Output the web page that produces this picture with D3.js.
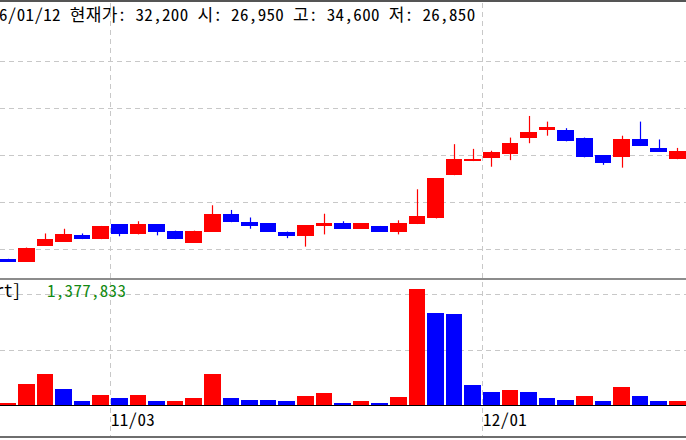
<!DOCTYPE html>
<html>
<head>
<meta charset="utf-8">
<script src="https://cdn.jsdelivr.net/npm/d3@7"></script>
<style>
body { margin: 0; background: #fff; overflow: hidden; }
text { font-family: "Noto Sans Mono CJK KR", "Noto Sans CJK KR", "DejaVu Sans Mono", monospace; }
</style>
</head>
<body>
<script>
var dates = ["10/23", "10/26", "10/27", "10/28", "10/29", "10/30", "11/03", "11/04", "11/05", "11/06",
             "11/09", "11/10", "11/11", "11/12", "11/13", "11/16", "11/17", "11/18", "11/19", "11/20",
             "11/23", "11/24", "11/25", "11/26", "11/27", "11/30", "12/01", "12/02", "12/03", "12/04",
             "12/07", "12/08", "12/09", "12/10", "12/11", "12/14", "12/15"];

var open  = [19450, 19300, 20150, 20350, 20700, 20500, 21300, 20750, 21300, 20950,
             20300, 20900, 21850, 21400, 21350, 20900, 20650, 21200, 21350, 21050,
             21200, 20900, 21300, 21600, 23900, 24650, 24800, 25050, 25900, 26300,
             26300, 25900, 24950, 24850, 25800, 25350, 24750];
var high  = [19450, 20050, 20800, 21050, 20800, 21200, 21300, 21450, 21300, 20950,
             20950, 22300, 22050, 21650, 21350, 20900, 21250, 21850, 21450, 21350,
             21200, 21500, 23150, 23750, 25550, 25300, 25200, 25900, 27050, 26750,
             26400, 25900, 24950, 26000, 26750, 25800, 25350];
var low   = [19300, 19300, 20150, 20350, 20500, 20500, 20650, 20750, 20700, 20500,
             20300, 20900, 21400, 21050, 20900, 20550, 20100, 20750, 21050, 21050,
             20900, 20750, 21300, 21600, 23900, 24650, 24350, 24700, 25600, 26000,
             25700, 24850, 24450, 24300, 25450, 25150, 24750];
var close = [19300, 20050, 20500, 20750, 20500, 21200, 20750, 21300, 20900, 20500,
             20950, 21850, 21400, 21200, 20900, 20650, 21250, 21350, 21050, 21350,
             20900, 21350, 21750, 23750, 24750, 24750, 25150, 25600, 26200, 26450,
             25700, 24850, 24550, 25800, 25450, 25150, 25200];

var volume = [22000, 193000, 282000, 148000, 40000, 94000, 67000, 94000, 39000, 42000,
              67000, 285000, 67000, 49000, 47000, 40000, 85000, 112000, 22000, 40000,
              20000, 80000, 1045000, 830000, 821000, 184000, 121000, 139000, 120000, 67000,
              49000, 85000, 40000, 166000, 85000, 40000, 42000];
var prevVolume = 20000; // volume of the session before the first bar

var priceTicks = [20000, 22500, 25000, 27500, 30000];
var volumeTicks = [500000, 1000000];
var monthTicks = ["11/03", "12/01"];

var titleText = "2016/01/12 현재가: 32,200 시: 26,950 고: 34,600 저: 26,850";
var volumeLabel = "거래량 [Bar Chart]";
var volumeValue = "1,377,833";

var W = 686, H = 440;
var UP = "#ff0000", DOWN = "#0000ff";

var svg = d3.select("body").append("svg")
    .attr("width", W)
    .attr("height", H);

// x: one slot per session, chart continues past both edges of the window
var x = d3.scaleBand()
    .domain(dates)
    .range([-1.6, 686.6])
    .paddingInner(0.1)
    .paddingOuter(0.05);
var slotEdge = function(d) { return x(d) - x.step() * x.paddingInner() / 2; };
var cx = function(d) { return Math.round(x(d) + x.bandwidth() / 2) + 0.5; };

var y = d3.scaleLinear().domain([20000, 30000]).range([248.5, 60.5]);
var yv = d3.scaleLinear().domain([0, 1000000]).range([405.5, 294]);

var grid = svg.append("g")
    .attr("stroke", "#c8c8c8")
    .attr("stroke-width", 1)
    .attr("stroke-dasharray", "5,4");

grid.selectAll("line.ph").data(priceTicks).enter().append("line")
    .attr("x1", 0).attr("x2", W)
    .attr("y1", function(d) { return Math.round(y(d)) + 0.5; })
    .attr("y2", function(d) { return Math.round(y(d)) + 0.5; });

grid.selectAll("line.vh").data(volumeTicks).enter().append("line")
    .attr("x1", 0).attr("x2", W)
    .attr("y1", function(d) { return Math.round(yv(d)) + 0.5; })
    .attr("y2", function(d) { return Math.round(yv(d)) + 0.5; });

grid.selectAll("line.mv").data(monthTicks).enter().append("line")
    .attr("x1", function(d) { return Math.round(slotEdge(d)) + 0.5; })
    .attr("x2", function(d) { return Math.round(slotEdge(d)) + 0.5; })
    .attr("y1", 3).attr("y2", 436);

// frame lines
svg.append("line").attr("x1", 0).attr("x2", W).attr("y1", 1).attr("y2", 1)
    .attr("stroke", "#555").attr("stroke-width", 2);
svg.append("line").attr("x1", 0).attr("x2", W).attr("y1", 279).attr("y2", 279)
    .attr("stroke", "#8c8c8c").attr("stroke-width", 2);
svg.append("line").attr("x1", 0).attr("x2", W).attr("y1", 437).attr("y2", 437)
    .attr("stroke", "#6e6e6e").attr("stroke-width", 2);

// candles
var candles = svg.append("g").selectAll("g").data(dates).enter().append("g")
    .attr("fill", function(d, i) { return close[i] >= open[i] ? UP : DOWN; })
    .attr("stroke", function(d, i) { return close[i] >= open[i] ? UP : DOWN; });

candles.append("line")
    .attr("x1", cx).attr("x2", cx)
    .attr("y1", function(d, i) { return y(high[i]); })
    .attr("y2", function(d, i) { return y(low[i]); })
    .attr("stroke-width", 1.2);

candles.append("rect")
    .attr("stroke", "none")
    .attr("shape-rendering", "crispEdges")
    .attr("x", function(d) { return x(d); })
    .attr("width", x.bandwidth())
    .attr("y", function(d, i) { return y(Math.max(open[i], close[i])); })
    .attr("height", function(d, i) { return Math.max(2, Math.abs(y(open[i]) - y(close[i]))); });

// volume bars, coloured against the previous session's volume
svg.append("g").selectAll("rect").data(volume).enter().append("rect")
    .attr("shape-rendering", "crispEdges")
    .attr("fill", function(v, i) {
        var prev = i == 0 ? prevVolume : volume[i - 1];
        return v >= prev ? UP : DOWN;
    })
    .attr("x", function(v, i) { return x(dates[i]); })
    .attr("width", x.bandwidth())
    .attr("y", function(v) { return yv(v); })
    .attr("height", function(v) { return yv(0) - yv(v); });

svg.append("line").attr("x1", 0).attr("x2", W)
    .attr("y1", 405.5).attr("y2", 405.5)
    .attr("stroke", "#000").attr("stroke-width", 1);

// month labels under the volume panel
svg.append("g").selectAll("text").data(monthTicks).enter().append("text")
    .attr("x", function(d) { return slotEdge(d) + 1; })
    .attr("y", 426)
    .attr("font-size", 17)
    .attr("letter-spacing", 0.3)
    .attr("fill", "#000")
    .text(function(d) { return d; });

// title, its start runs off the left edge
var title = svg.append("text")
    .attr("y", 21)
    .attr("font-size", 17)
    .attr("letter-spacing", 0.35)
    .attr("fill", "#000")
    .text(titleText);
title.attr("x", -title.node().getSubStringLength(0, 3) - 1);

svg.append("text")
    .attr("x", 21)
    .attr("y", 297)
    .attr("text-anchor", "end")
    .attr("font-size", 17)
    .attr("fill", "#000")
    .text(volumeLabel);

svg.append("text")
    .attr("x", 47)
    .attr("y", 297)
    .attr("font-size", 17)
    .attr("letter-spacing", 0.3)
    .attr("fill", "#138a13")
    .text(volumeValue);
</script>
</body>
</html>
